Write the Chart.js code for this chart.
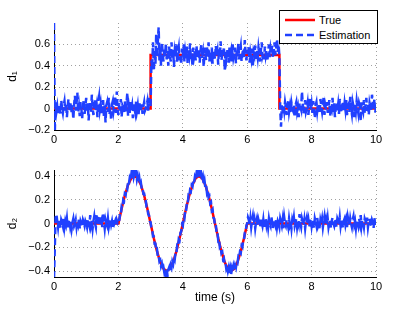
<!DOCTYPE html>
<html lang="en">
<head>
<meta charset="UTF-8">
<title>Disturbance estimation d1 / d2</title>
<script src="https://cdn.jsdelivr.net/npm/chart.js"></script>
<style>
  body { margin: 0; background: #fff; font-family: 'Liberation Sans', Arial, sans-serif; }
  .panel { position: absolute; left: 0; width: 415px; }
  #top-panel { top: 0; height: 150px; }
  #bottom-panel { top: 150px; height: 162px; }
  .legend { position: absolute; left: 279px; top: 10px; width: 99px; height: 34px; box-sizing: border-box;
            border: 1px solid #000; background: #fff; font-size: 11px; color: #000; }
  .legend-row { position: absolute; left: 5px; height: 14px; display: flex; align-items: center; }
  .legend-row span { margin-left: 4px; }
</style>
</head>
<body>
<div class="panel" id="top-panel"><canvas id="d1-chart" width="415" height="150"></canvas></div>
<div class="panel" id="bottom-panel"><canvas id="d2-chart" width="415" height="162"></canvas></div>
<div class="legend">
  <div class="legend-row" style="top:2px"><svg width="30" height="14"><line x1="0" y1="7" x2="30" y2="7" stroke="#ff0000" stroke-width="2.5"/></svg><span>True</span></div>
  <div class="legend-row" style="top:17px"><svg width="30" height="14"><line x1="0" y1="7" x2="30" y2="7" stroke="#2040ff" stroke-width="2.5" stroke-dasharray="7 4"/></svg><span>Estimation</span></div>
</div>

<script>
// --- data ---
const xTicks = [0, 2, 4, 6, 8, 10];
const d1Ticks = [-0.2, 0, 0.2, 0.4, 0.6];
const d2Ticks = [-0.4, -0.2, 0, 0.2, 0.4];

// true disturbances (breakpoints)
const trueD1Time = [0, 3, 3, 7, 7, 10];
const trueD1 = [0, 0, 0.5, 0.5, 0, 0];

const trueD2Time = [0, 2, 2.1, 2.2, 2.3, 2.4, 2.5, 2.6, 2.7, 2.8, 2.9, 3, 3.1, 3.2, 3.3, 3.4, 3.5, 3.6, 3.7, 3.8, 3.9,
  4, 4.1, 4.2, 4.3, 4.4, 4.5, 4.6, 4.7, 4.8, 4.9, 5, 5.1, 5.2, 5.3, 5.4, 5.5, 5.6, 5.7, 5.8, 5.9, 6, 10];
const trueD2 = [0, 0, 0.124, 0.235, 0.324, 0.380, 0.400, 0.380, 0.324, 0.235, 0.124, 0, -0.124, -0.235, -0.324, -0.380, -0.400,
  -0.380, -0.324, -0.235, -0.124, 0, 0.124, 0.235, 0.324, 0.380, 0.400, 0.380, 0.324, 0.235, 0.124, 0, -0.124, -0.235,
  -0.324, -0.380, -0.400, -0.380, -0.324, -0.235, -0.124, 0, 0];

// estimates, one sample every 0.025 s from 0 to 10 (20 samples per row = 0.5 s)
const sampleStep = 0.025;
const estD1 = [
  0.80, -0.22, 0.06, -0.03, 0.02, -0.06, 0.04, 0.01, -0.05, 0.08, 0.00, -0.04, 0.03, 0.07, -0.02, 0.05, -0.08, 0.02, 0.09, -0.03,
  0.01, 0.06, -0.05, 0.03, -0.10, 0.04, 0.12, -0.02, 0.05, 0.15, -0.04, 0.02, -0.07, 0.06, 0.00, -0.09, 0.03, 0.08, -0.05, 0.02,
  0.10, -0.03, 0.05, -0.11, 0.02, 0.07, -0.04, 0.13, 0.01, -0.06, 0.04, 0.09, -0.02, 0.03, -0.08, 0.06, 0.11, -0.01, 0.04, -0.05,
  0.02, 0.08, -0.07, 0.05, -0.13, 0.03, 0.06, -0.03, 0.10, -0.05, 0.01, -0.11, 0.04, 0.07, -0.02, 0.03, 0.12, -0.04, 0.16, 0.00,
  -0.06, 0.05, -0.02, 0.09, -0.08, 0.03, 0.01, -0.05, 0.07, -0.03, 0.04, 0.14, -0.07, 0.02, -0.04, 0.06, -0.01, 0.03, -0.09, 0.05,
  0.00, -0.04, 0.07, -0.02, 0.03, -0.06, 0.05, 0.01, -0.03, 0.04, -0.05, 0.02, 0.06, -0.02, 0.00, 0.03, 0.07, -0.02, 0.10, 0.04,
  0.02, 0.45, 0.38, 0.62, 0.35, 0.55, 0.42, 0.70, 0.48, 0.63, 0.76, 0.45, 0.58, 0.40, 0.62, 0.52, 0.44, 0.57, 0.49, 0.61,
  0.46, 0.54, 0.40, 0.58, 0.50, 0.44, 0.62, 0.47, 0.55, 0.39, 0.53, 0.48, 0.60, 0.43, 0.52, 0.57, 0.45, 0.51, 0.41, 0.56,
  0.49, 0.60, 0.44, 0.53, 0.47, 0.58, 0.42, 0.55, 0.50, 0.61, 0.46, 0.52, 0.40, 0.57, 0.49, 0.54, 0.45, 0.59, 0.48, 0.51,
  0.56, 0.43, 0.54, 0.60, 0.47, 0.52, 0.39, 0.57, 0.50, 0.45, 0.58, 0.48, 0.62, 0.44, 0.53, 0.49, 0.57, 0.42, 0.55, 0.51,
  0.46, 0.59, 0.50, 0.54, 0.41, 0.56, 0.48, 0.63, 0.45, 0.52, 0.49, 0.58, 0.36, 0.53, 0.47, 0.55, 0.51, 0.43, 0.57, 0.50,
  0.54, 0.44, 0.60, 0.48, 0.52, 0.57, 0.42, 0.55, 0.49, 0.61, 0.46, 0.53, 0.58, 0.44, 0.51, 0.56, 0.47, 0.64, 0.52, 0.45,
  0.55, 0.49, 0.58, 0.43, 0.52, 0.47, 0.56, 0.40, 0.53, 0.50, 0.59, 0.45, 0.54, 0.48, 0.57, 0.51, 0.44, 0.55, 0.62, 0.49,
  0.52, 0.46, 0.58, 0.50, 0.55, 0.44, 0.53, 0.60, 0.48, 0.56, 0.51, 0.59, 0.47, 0.54, 0.62, 0.50, 0.57, 0.65, 0.53, 0.60,
  0.48, 0.00, -0.17, 0.03, -0.05, 0.04, -0.02, 0.06, 0.01, -0.06, 0.03, 0.07, -0.03, 0.02, -0.04, 0.05, 0.00, -0.02, 0.04, -0.07,
  0.03, 0.06, -0.03, 0.01, -0.08, 0.05, 0.02, -0.01, 0.16, 0.04, -0.05, 0.02, 0.08, -0.03, 0.00, 0.05, -0.06, 0.03, 0.10, -0.02,
  0.04, -0.04, 0.07, 0.01, -0.09, 0.03, 0.06, -0.02, 0.05, 0.00, -0.05, 0.09, 0.02, -0.03, 0.04, 0.11, -0.06, 0.03, -0.01, 0.06,
  -0.04, 0.02, 0.08, -0.07, 0.03, 0.00, 0.10, -0.03, 0.05, -0.08, 0.02, 0.06, -0.02, 0.04, -0.05, 0.09, 0.01, -0.04, 0.03, 0.07,
  -0.03, 0.05, -0.01, 0.08, -0.06, 0.02, 0.04, -0.03, 0.11, 0.00, -0.05, 0.06, 0.02, -0.08, 0.04, -0.02, 0.07, 0.01, -0.04, 0.05,
  0.02, -0.12, 0.06, 0.00, -0.03, 0.08, -0.05, 0.03, 0.10, -0.02, 0.04, -0.06, 0.05, 0.01, -0.03, 0.13, 0.06, -0.01, 0.09, -0.04,
  0.02
];
const estD2 = [
  -0.46, -0.20, 0.05, 0.08, 0.02, -0.03, 0.04, 0.00, -0.04, 0.03, 0.01, -0.02, 0.05, -0.03, 0.02, -0.01, 0.04, -0.04, 0.01, 0.03,
  -0.02, 0.03, -0.04, 0.01, 0.04, -0.02, 0.00, 0.03, -0.03, 0.02, -0.01, 0.04, -0.04, 0.02, 0.00, -0.03, 0.03, 0.01, -0.02, 0.02,
  0.00, -0.03, 0.04, 0.01, -0.02, 0.07, -0.01, 0.03, -0.04, 0.02, 0.06, 0.00, -0.03, 0.08, 0.01, -0.02, 0.04, 0.07, -0.01, 0.02,
  -0.03, 0.09, 0.02, -0.04, 0.03, 0.00, -0.02, 0.04, -0.03, 0.01, 0.03, -0.01, 0.02, -0.03, 0.04, 0.00, 0.02, -0.02, 0.03, 0.01,
  0.03, 0.02, 0.08, 0.07, 0.14, 0.13, 0.20, 0.19, 0.25, 0.24, 0.30, 0.29, 0.35, 0.33, 0.38, 0.36, 0.41, 0.37, 0.44, 0.39,
  0.42, 0.38, 0.43, 0.37, 0.40, 0.35, 0.38, 0.32, 0.34, 0.29, 0.30, 0.25, 0.25, 0.21, 0.19, 0.14, 0.14, 0.08, 0.07, 0.02,
  0.01, -0.04, -0.05, -0.11, -0.11, -0.17, -0.17, -0.23, -0.22, -0.28, -0.27, -0.32, -0.31, -0.36, -0.34, -0.39, -0.37, -0.41, -0.38, -0.43,
  -0.38, -0.44, -0.39, -0.37, -0.40, -0.35, -0.37, -0.32, -0.34, -0.28, -0.30, -0.24, -0.25, -0.19, -0.20, -0.13, -0.14, -0.08, -0.07, -0.01,
  -0.02, 0.05, 0.04, 0.11, 0.10, 0.17, 0.16, 0.23, 0.22, 0.28, 0.27, 0.32, 0.31, 0.36, 0.34, 0.39, 0.37, 0.42, 0.38, 0.43,
  0.39, 0.44, 0.38, 0.41, 0.36, 0.39, 0.33, 0.36, 0.30, 0.32, 0.26, 0.28, 0.22, 0.23, 0.17, 0.18, 0.11, 0.12, 0.05, 0.04,
  -0.02, -0.01, -0.08, -0.07, -0.14, -0.13, -0.20, -0.19, -0.25, -0.24, -0.30, -0.29, -0.34, -0.33, -0.38, -0.36, -0.40, -0.37, -0.42, -0.38,
  -0.43, -0.38, -0.41, -0.36, -0.39, -0.35, -0.37, -0.32, -0.33, -0.28, -0.29, -0.24, -0.25, -0.19, -0.20, -0.14, -0.14, -0.08, -0.08, -0.02,
  0.00, 0.05, 0.03, -0.02, 0.04, -0.03, 0.02, 0.06, -0.01, 0.03, -0.04, 0.01, 0.04, -0.02, 0.03, 0.00, -0.03, 0.05, 0.01, -0.02,
  0.03, -0.04, 0.02, 0.05, -0.01, 0.03, -0.03, 0.04, 0.00, -0.02, 0.06, 0.01, -0.04, 0.03, 0.02, -0.01, 0.04, -0.03, 0.02, 0.00,
  -0.03, 0.04, 0.01, -0.02, 0.03, -0.04, 0.05, 0.00, -0.02, 0.03, 0.01, -0.03, 0.04, -0.01, 0.02, -0.04, 0.03, 0.00, 0.05, -0.02,
  0.01, 0.04, -0.03, 0.02, -0.01, 0.08, 0.00, -0.03, 0.04, 0.01, -0.02, 0.03, -0.04, 0.02, 0.05, -0.01, 0.03, -0.03, 0.01, 0.04,
  -0.02, 0.03, 0.00, -0.04, 0.04, 0.01, -0.02, 0.05, -0.01, 0.02, -0.05, 0.03, 0.00, 0.04, -0.03, 0.02, 0.06, -0.01, 0.03, -0.02,
  0.04, -0.03, 0.01, 0.03, -0.04, 0.02, 0.05, 0.00, -0.02, 0.03, 0.01, -0.03, 0.04, 0.02, -0.01, 0.05, -0.02, 0.03, 0.00, -0.04,
  0.02, 0.04, -0.01, 0.03, -0.03, 0.05, 0.01, -0.02, 0.04, 0.00, -0.03, 0.03, 0.06, -0.01, 0.02, -0.04, 0.03, 0.01, -0.02, 0.04,
  0.00, 0.07, -0.02, 0.03, 0.01, -0.03, 0.04, 0.02, -0.01, 0.05, -0.03, 0.02, 0.04, 0.00, -0.02, 0.03, 0.01, -0.04, 0.05, -0.02,
  0.01
];

// --- styling ---
const FONT = "'Liberation Sans', Arial, sans-serif";
const RED = '#ff0000';
const BLUE = '#2040ff';

const fmtTick = v => (v < 0 ? '\u2212' + Math.abs(v) : String(v));

function toPoints(times, values) {
  return values.map((y, i) => ({ x: times[i], y: y }));
}
function sampled(values) {
  return values.map((y, i) => ({ x: i * sampleStep, y: y }));
}

function panelOptions(cfg) {
  return {
    responsive: false,
    animation: false,
    events: [],
    layout: { padding: { top: cfg.top, right: 39, left: 0, bottom: 0 } },
    plugins: { legend: { display: false }, tooltip: { enabled: false } },
    elements: { point: { radius: 0 }, line: { tension: 0 } },
    scales: {
      x: {
        type: 'linear', min: 0, max: 10,
        afterBuildTicks: s => { s.ticks = xTicks.map(v => ({ value: v })); },
        afterFit: s => { s.height = cfg.xHeight; },
        grid: { color: '#a0a0a0', drawTicks: false },
        border: { display: true, color: '#000', width: 1, dash: [1, 3] },
        ticks: { padding: 3, color: '#000', font: { family: FONT, size: 11 }, maxRotation: 0, callback: fmtTick },
        title: cfg.xTitle
          ? { display: true, text: cfg.xTitle, color: '#000', font: { family: FONT, size: 12 }, padding: { top: 0, bottom: 7 } }
          : { display: false }
      },
      y: {
        type: 'linear', min: cfg.yMin, max: cfg.yMax,
        afterBuildTicks: s => { s.ticks = cfg.yTicks.map(v => ({ value: v })); },
        afterFit: s => { s.width = 54; },
        grid: { color: '#a0a0a0', drawTicks: false },
        border: { display: true, color: '#000', width: 1, dash: [1, 3] },
        ticks: { padding: 4, color: '#000', font: { family: FONT, size: 11 }, callback: fmtTick },
        title: { display: true, text: cfg.yTitle, color: '#000', font: { family: FONT, size: 12 }, padding: { top: 5, bottom: 0 } }
      }
    }
  };
}

function panelData(estValues, trueTimes, trueValues) {
  return {
    datasets: [
      // drawn on top
      { label: 'Estimation', data: sampled(estValues), borderColor: BLUE, borderWidth: 2.5, borderDash: [7, 4], fill: false },
      { label: 'True', data: toPoints(trueTimes, trueValues), borderColor: RED, borderWidth: 2.5, fill: false }
    ]
  };
}

new Chart(document.getElementById('d1-chart'), {
  type: 'line',
  data: panelData(estD1, trueD1Time, trueD1),
  options: panelOptions({ top: 23, xHeight: 20, yMin: -0.2, yMax: 0.8, yTicks: d1Ticks, yTitle: 'd\u2081' })
});

new Chart(document.getElementById('d2-chart'), {
  type: 'line',
  data: panelData(estD2, trueD2Time, trueD2),
  options: panelOptions({ top: 20, xHeight: 35, yMin: -0.45, yMax: 0.45, yTicks: d2Ticks, yTitle: 'd\u2082', xTitle: 'time (s)' })
});
</script>
</body>
</html>
